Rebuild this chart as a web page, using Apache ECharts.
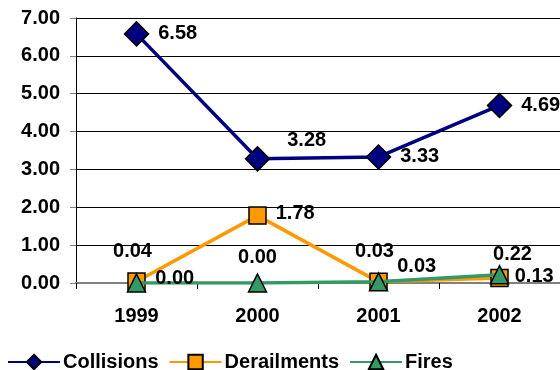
<!DOCTYPE html>
<html><head><meta charset="utf-8">
<script src="https://cdn.jsdelivr.net/npm/echarts@6/dist/echarts.min.js"></script>
<style>html,body{margin:0;padding:0;background:#fff}#c{width:560px;height:370px}</style>
</head><body><div id="c"></div>
<script>
const categories = ['1999', '2000', '2001', '2002'];
const collisions = [6.58, 3.28, 3.33, 4.69];
const derailments = [0.04, 1.78, 0.03, 0.13];
const fires = [0.00, 0.00, 0.03, 0.22];
const yTicks = [0, 1, 2, 3, 4, 5, 6, 7];

const FONT = '"Liberation Sans", Arial, sans-serif';
const labelBase = {show: true, fontFamily: FONT, fontWeight: 'bold', fontSize: 20, color: '#000',
  formatter: p => Number(p.value).toFixed(2)};

// label placement per point (layout only)
const layouts = {
  Collisions: [['right', 9, [0, 0]], ['right', 9, [8, -18]], ['right', 9, [0, 0]], ['right', 9, [0, 0]]],
  Derailments: [['top', 11, [-4, 0]], ['right', 9, [0, -2]], ['top', 11, [-4, 0]], ['right', 6, [0, -2]]],
  Fires: [['right', 9, [0, -5]], ['top', 6, [0, 0]], ['right', 9, [0, -15]], ['top', 0, [13, 0]]]
};
function build(name, vals) {
  return vals.map((v, i) => {
    const l = layouts[name][i];
    return {value: v, label: {position: l[0], distance: l[1], offset: l[2]}};
  });
}
function series(name, vals, color, symbol, size) {
  return {
    name, type: 'line', data: build(name, vals), symbol, symbolSize: size,
    lineStyle: {color, width: 3.5}, itemStyle: {color, borderColor: '#000', borderWidth: 1.5},
    label: labelBase, z: name === 'Fires' ? 3 : (name === 'Derailments' ? 2 : 4)
  };
}
const chart = echarts.init(document.getElementById('c'), null, {renderer: 'canvas'});
chart.setOption({
  animation: false,
  grid: {left: 76, right: 0, top: 18, bottom: 87},
  xAxis: {
    type: 'category', data: categories, boundaryGap: true,
    axisLine: {lineStyle: {color: '#808080', width: 2}},
    axisTick: {show: true, length: 6, lineStyle: {color: '#000'}},
    axisLabel: {fontFamily: FONT, fontWeight: 'bold', fontSize: 20, color: '#000', margin: 23}
  },
  yAxis: {
    type: 'value', min: yTicks[0], max: yTicks[yTicks.length - 1], interval: 1,
    axisLine: {show: true, lineStyle: {color: '#000', width: 1}},
    axisTick: {show: true, length: 6, lineStyle: {color: '#808080'}},
    splitLine: {lineStyle: {color: '#000', width: 1}},
    axisLabel: {fontFamily: FONT, fontWeight: 'bold', fontSize: 20, color: '#000', margin: 16,
      formatter: v => v.toFixed(2)}
  },
  legend: {
    left: 2, top: 347, itemWidth: 52, itemHeight: 18, itemGap: 10,
    textStyle: {fontFamily: FONT, fontWeight: 'bold', fontSize: 20, color: '#000', padding: [0, 0, 0, -2]},
    data: ['Collisions', 'Derailments', 'Fires']
  },
  series: [
    series('Collisions', collisions, '#000080', 'diamond', 24),
    series('Derailments', derailments, '#FF9900', 'rect', 17),
    series('Fires', fires, '#339966', 'triangle', 18)
  ]
});
</script></body></html>
